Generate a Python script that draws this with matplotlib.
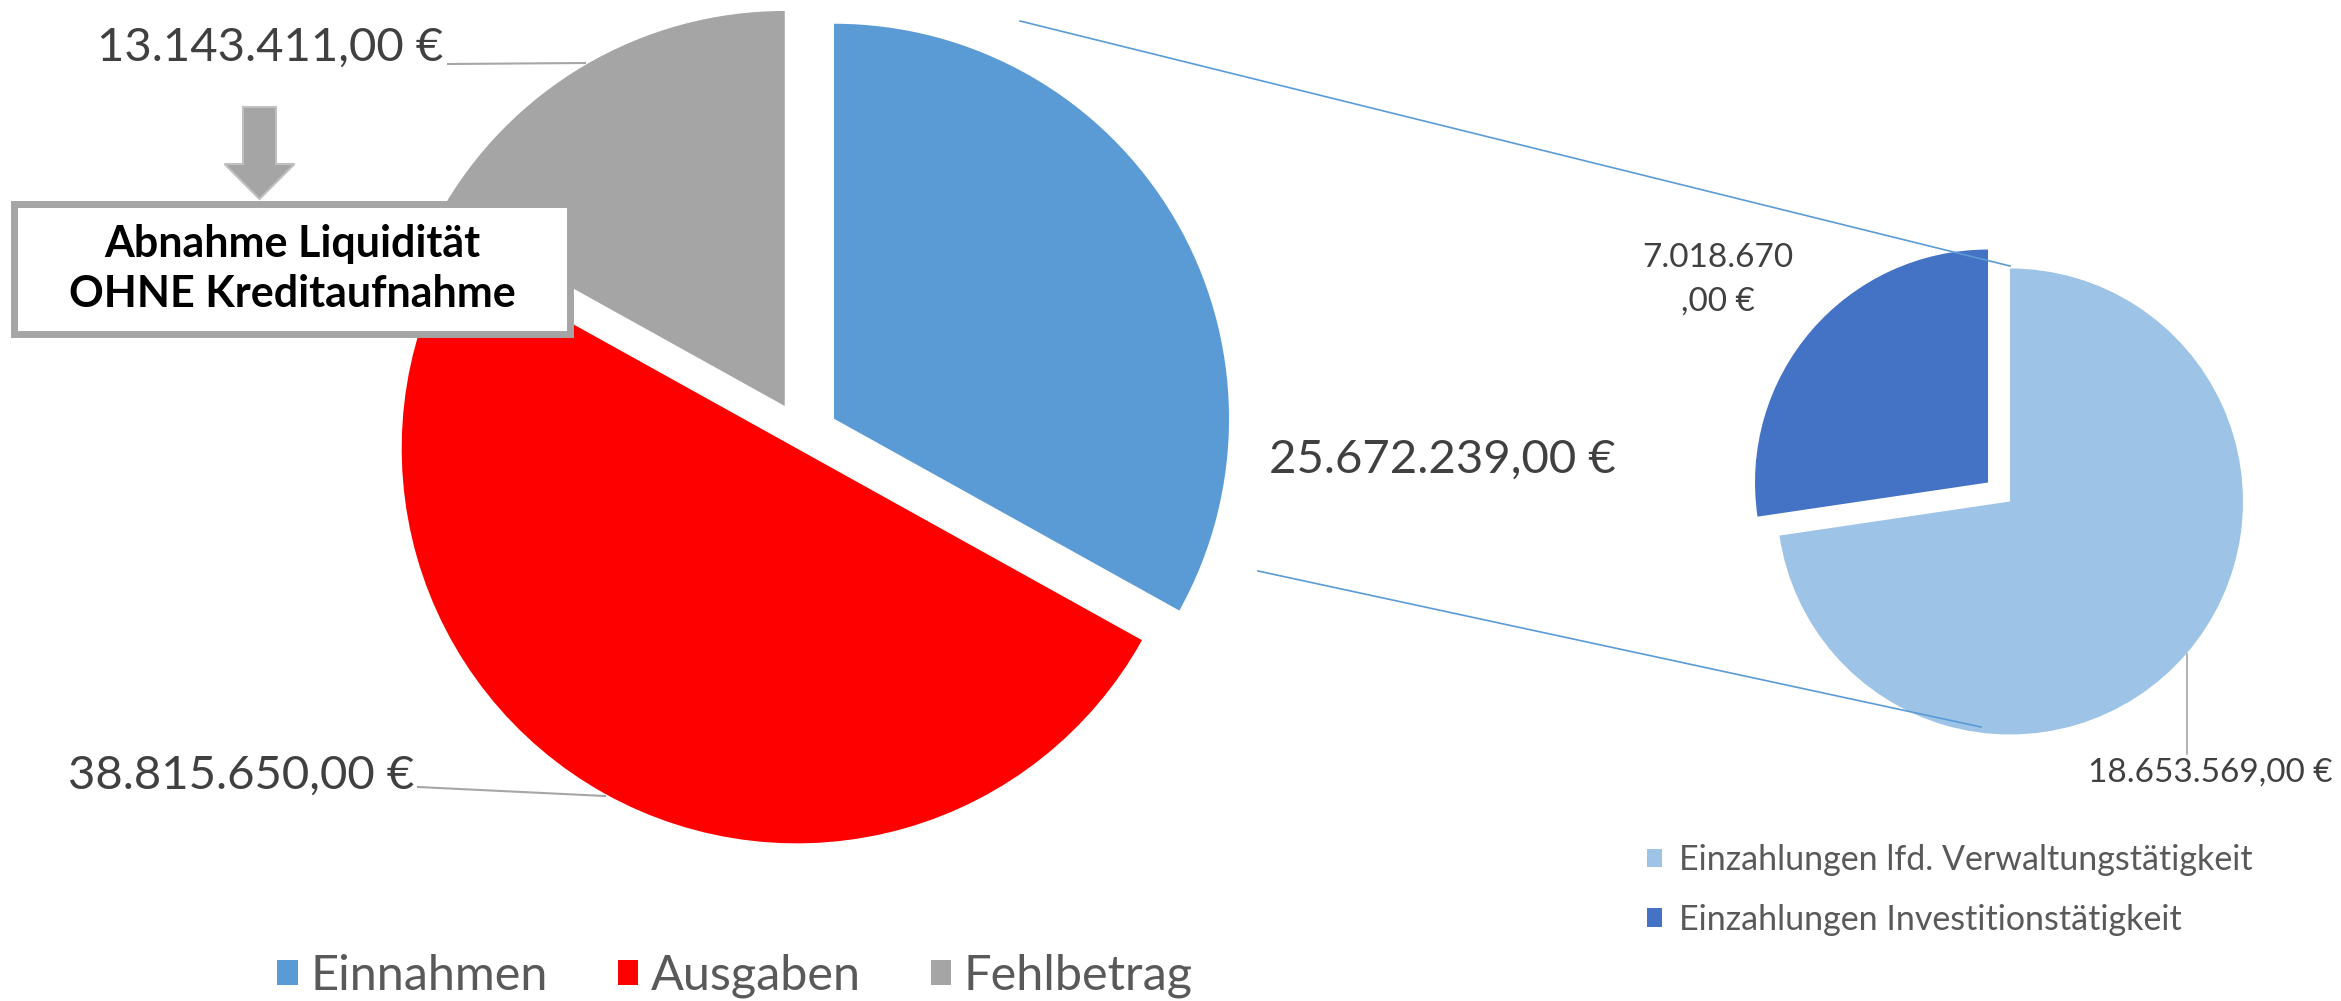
import matplotlib
matplotlib.use("Agg")
import matplotlib.pyplot as plt
from matplotlib.patches import Rectangle, FancyArrow
import numpy as np

# ---------------- data ----------------
main_labels = ["Einnahmen", "Ausgaben", "Fehlbetrag"]
main_values = [25672239.00, 38815650.00, 13143411.00]
main_colors = ["#5B9BD5", "#FF0000", "#A5A5A5"]

sub_labels = ["Einzahlungen Investitionstätigkeit", "Einzahlungen lfd. Verwaltungstätigkeit"]
sub_values = [7018670.00, 18653569.00]
sub_colors = ["#4472C4", "#9DC3E6"]

value_texts = {
    "Einnahmen": "25.672.239,00 €",
    "Ausgaben": "38.815.650,00 €",
    "Fehlbetrag": "13.143.411,00 €",
    "Invest": "7.018.670\n,00 €",
    "Verwaltung": "18.653.569,00 €",
}
box_text = "Abnahme Liquidität\nOHNE Kreditaufnahme"

# ---------------- layout ----------------
W, H = 2341, 1001
plt.rcParams['font.family'] = ['Lato', 'DejaVu Sans']
fig = plt.figure(figsize=(W / 100, H / 100), dpi=100)
ax = fig.add_axes([0, 0, 1, 1])

def Y(y):
    return H - y

main_center = (803, Y(437))
main_r = 395
sub_center = (1999, Y(492))
sub_r = 233

wedges_main, _ = ax.pie(main_values, colors=main_colors, startangle=90,
                        counterclock=False, explode=[36, 13, 36],
                        center=main_center, radius=main_r,
                        wedgeprops=dict(linewidth=0))
wedges_sub, _ = ax.pie(sub_values, colors=sub_colors, startangle=90,
                       counterclock=True, explode=[14.5, 14.5],
                       center=sub_center, radius=sub_r,
                       wedgeprops=dict(linewidth=0))

ax.set_xlim(0, W)
ax.set_ylim(0, H)
ax.set_aspect('auto')
ax.axis('off')

# connector lines (pie of pie)
conn_col = "#5B9BD5"
ax.plot([1020, 2010], [Y(21), Y(266)], color=conn_col, lw=1.2, zorder=1)
ax.plot([1258, 1981], [Y(571), Y(727)], color=conn_col, lw=1.2, zorder=1)

# value labels
lab_col = "#404040"
big = 34
ax.text(443, Y(48), value_texts["Fehlbetrag"], ha='right', va='center', fontsize=big, color=lab_col)
ax.plot([448, 585], [Y(64), Y(63)], color="#A6A6A6", lw=1.5)
ax.text(414, Y(776), value_texts["Ausgaben"], ha='right', va='center', fontsize=big, color=lab_col)
ax.plot([418, 605], [Y(787), Y(796)], color="#A6A6A6", lw=1.5)
ax.text(1269, Y(460), value_texts["Einnahmen"], ha='left', va='center', fontsize=big, color=lab_col)

small = 24
ax.text(1718, Y(280), value_texts["Invest"], ha='center', va='center', fontsize=small,
        color=lab_col, linespacing=1.55)
ax.text(2210, Y(773), value_texts["Verwaltung"], ha='center', va='center', fontsize=small, color=lab_col)
ax.plot([2187, 2187], [Y(654), Y(754)], color="#A6A6A6", lw=1.2)

# annotation arrow and box
arrow = FancyArrow(259.5, Y(107), 0, -92, width=33, head_width=70, head_length=35,
                   length_includes_head=True, facecolor="#A5A5A5", edgecolor="#C0C0C0",
                   lw=1.5, zorder=5)
ax.add_patch(arrow)
box = Rectangle((14, Y(334)), 556, 130, facecolor="white", edgecolor="#A5A5A5",
                lw=5, zorder=6)
ax.add_patch(box)
ax.text(292, Y(269), box_text, ha='center', va='center', fontsize=31, fontweight='bold',
        color="black", linespacing=1.3, zorder=7)

# legends
leg1 = fig.legend(wedges_main, main_labels, loc='center', ncol=3,
                  bbox_to_anchor=(735 / W, (H - 976) / H), frameon=False,
                  fontsize=35, handlelength=0.42, handleheight=0.42,
                  handletextpad=0.25, columnspacing=1.45, labelcolor="#595959",
                  borderpad=0, borderaxespad=0)
leg2 = fig.legend([wedges_sub[1], wedges_sub[0]], [sub_labels[1], sub_labels[0]],
                  loc='center left', bbox_to_anchor=(1647 / W, (H - 890) / H),
                  frameon=False, fontsize=24.5, handlelength=0.45, handleheight=0.45,
                  handletextpad=0.5, labelspacing=0.8, labelcolor="#595959",
                  borderpad=0, borderaxespad=0)

fig.savefig("out.png", dpi=100, facecolor="white")
